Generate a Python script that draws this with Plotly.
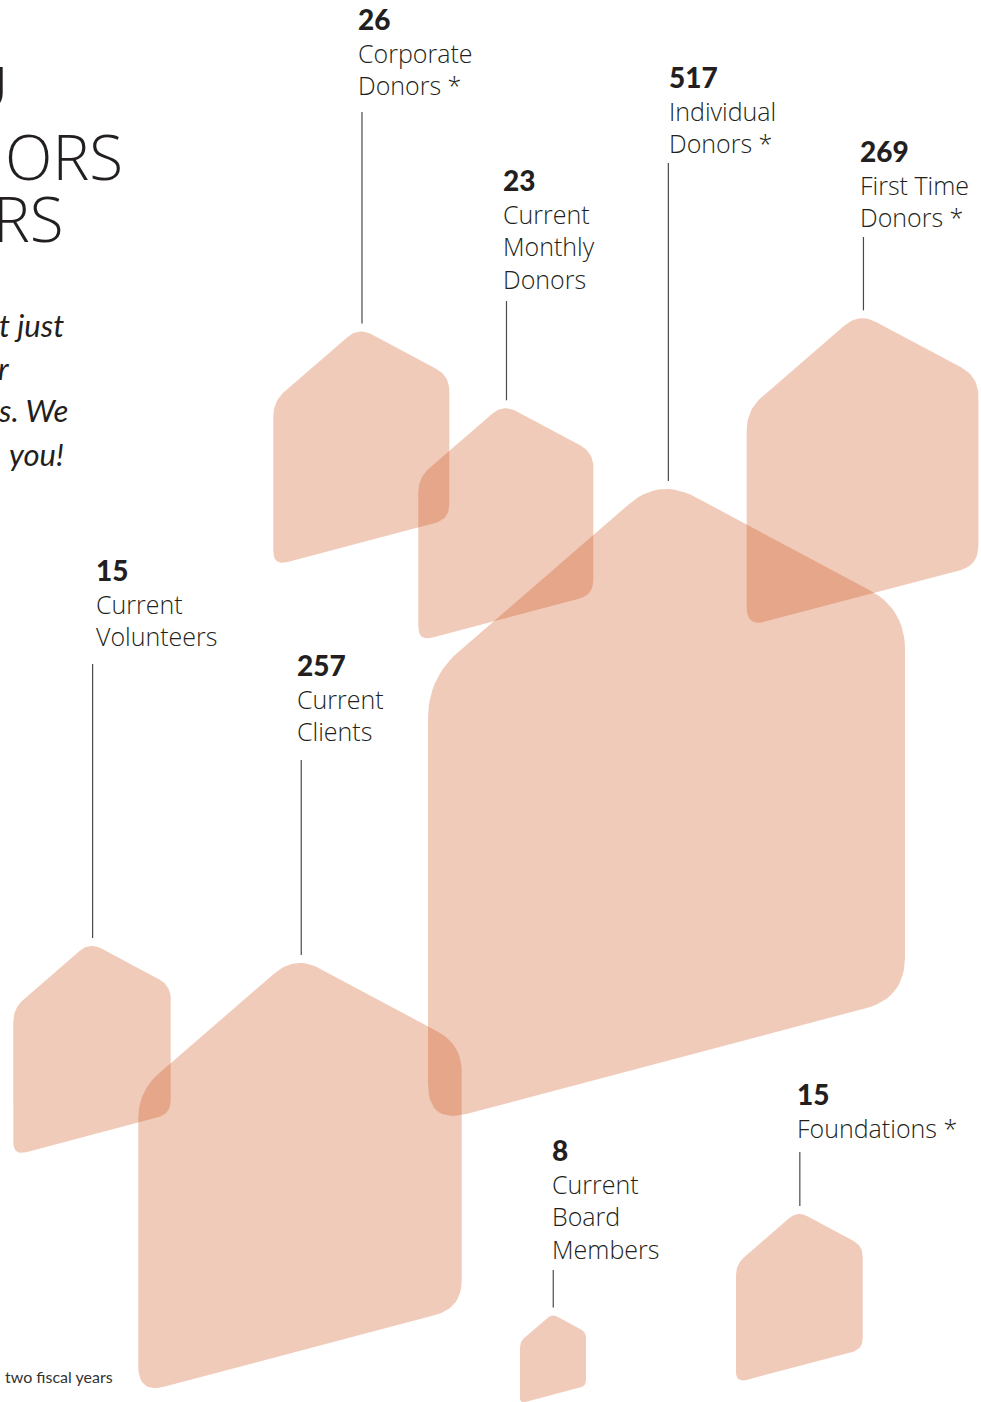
import numpy as np
import plotly.graph_objects as go

# ---------------- data ----------------
counts = [26, 23, 517, 269, 15, 257, 8, 15]
label_lines = [
    ["Corporate", "Donors *"],
    ["Current", "Monthly", "Donors"],
    ["Individual", "Donors *"],
    ["First Time", "Donors *"],
    ["Current", "Volunteers"],
    ["Current", "Clients"],
    ["Current", "Board", "Members"],
    ["Foundations *"],
]

# ---------------- layout / placement (pixels) ----------------
house_left = [273.3, 418.3, 428.0, 746.7, 13.3, 138.3, 520.0, 736.0]
house_top = [331.5, 408.3, 489.0, 318.3, 946.0, 963.0, 1315.5, 1214.0]
house_width = [176.0, 175.0, 477.0, 231.7, 157.4, 323.4, 66.0, 126.7]

label_x = [357, 502, 668, 859, 95, 296, 551, 796]
label_num_y = [20, 181, 78, 152, 571, 666, 1151, 1095]
leader_top = [112, 301, 163, 237, 664, 760, 1270, 1152]

W_PX, H_PX = 981, 1402
FILL = "rgba(205,82,25,0.30)"
TEXT = "#231f20"

# normalised house outline (width 1, peak vertex at y=0)
HOUSE = [(0.485, 0.0), (1.0, 0.275), (1.0, 1.09), (0.0, 1.355), (0.0, 0.42)]
CUT = 0.085


def rounded_outline(poly, d, steps=14):
    pts = np.array(poly, dtype=float)
    n = len(pts)
    out = []
    for i in range(n):
        v = pts[i]
        p = pts[i - 1]
        q = pts[(i + 1) % n]
        a = v + d * (p - v) / np.linalg.norm(p - v)
        b = v + d * (q - v) / np.linalg.norm(q - v)
        for t in np.linspace(0, 1, steps):
            out.append((1 - t) ** 2 * a + 2 * (1 - t) * t * v + t ** 2 * b)
    out.append(out[0])
    return np.array(out)


base = rounded_outline(HOUSE, CUT)

fig = go.Figure()
tips = []
for left, top, w in zip(house_left, house_top, house_width):
    xs = left + base[:, 0] * w
    ys = base[:, 1] * w
    ys = ys - ys.min() + top
    tips.append(xs[np.argmin(ys)])
    fig.add_trace(go.Scatter(
        x=xs, y=ys, mode="lines", fill="toself", fillcolor=FILL,
        line=dict(width=0), hoverinfo="skip", showlegend=False))

# leader lines
lx, ly = [], []
for tx, t0, top in zip(tips, leader_top, house_top):
    lx += [tx, tx, None]
    ly += [t0, top - 8, None]
fig.add_trace(go.Scatter(x=lx, y=ly, mode="lines",
                         line=dict(color="#4a4a4a", width=1.2),
                         hoverinfo="skip", showlegend=False))

NUM_STYLE = "font-family:Lato;font-weight:900;font-size:28px"
annotations = []
for n, lines, x, y in zip(counts, label_lines, label_x, label_num_y):
    txt = f'<span style="{NUM_STYLE}">{n}</span><br>' + "<br>".join(lines)
    annotations.append(dict(
        x=x - 1, y=y - 20, text=txt, xanchor="left", yanchor="top", align="left",
        font=dict(family="Open Sans", size=25, color=TEXT, weight=300)))

# clipped title block on the left edge
annotations += [
    dict(x=9, y=88, text="U", xanchor="right", yanchor="middle",
         font=dict(family="Lato", size=60, color=TEXT, weight=900)),
    dict(x=125, y=156, text="ORS", xanchor="right", yanchor="middle",
         font=dict(family="Open Sans", size=62, color=TEXT, weight=300)),
    dict(x=66, y=218, text="RS", xanchor="right", yanchor="middle",
         font=dict(family="Open Sans", size=62, color=TEXT, weight=300)),
    dict(x=66, y=325, text="<i>t just</i>", xanchor="right", yanchor="middle",
         font=dict(family="Lato", size=31, color=TEXT)),
    dict(x=12, y=368, text="<i>r</i>", xanchor="right", yanchor="middle",
         font=dict(family="Lato", size=31, color=TEXT)),
    dict(x=70, y=410, text="<i>s. We</i>", xanchor="right", yanchor="middle",
         font=dict(family="Lato", size=31, color=TEXT)),
    dict(x=66, y=454, text="<i>you!</i>", xanchor="right", yanchor="middle",
         font=dict(family="Lato", size=31, color=TEXT)),
    dict(x=3, y=1376, text="two fiscal years", xanchor="left", yanchor="middle",
         font=dict(family="Lato", size=16, color="#333333")),
]

for a in annotations:
    a.update(xref="x", yref="y", showarrow=False)

fig.update_layout(
    width=W_PX, height=H_PX,
    margin=dict(l=0, r=0, t=0, b=0),
    paper_bgcolor="white", plot_bgcolor="white",
    xaxis=dict(range=[0, W_PX], visible=False, fixedrange=True),
    yaxis=dict(range=[H_PX, 0], visible=False, fixedrange=True),
    annotations=annotations,
    showlegend=False,
)

fig.write_html(
    "out.html",
    config={"displayModeBar": False},
    post_script="document.body.style.margin='0';document.body.style.overflow='hidden';",
)
